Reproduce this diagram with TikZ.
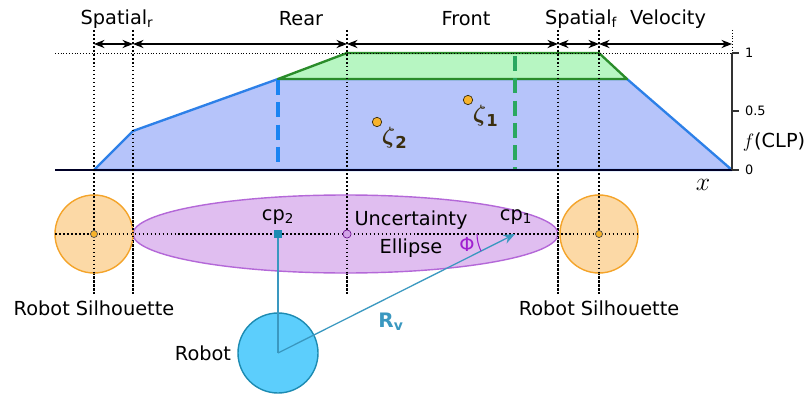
\RequirePackage{fix-cm}
\documentclass[tikz,border=0pt]{standalone}
\usepackage{fontspec}
\usepackage{amsmath}
\setmainfont{DejaVu Sans}
\usetikzlibrary{arrows.meta}

\definecolor{areablue}{HTML}{B6C4FA}
\definecolor{lineblue}{HTML}{2D80E8}
\definecolor{dashblue}{HTML}{1A84F2}
\definecolor{areagreen}{HTML}{B7F6C2}
\definecolor{linegreen}{HTML}{2A8C2A}
\definecolor{dashgreen}{HTML}{2AA860}
\definecolor{ellfill}{HTML}{E0BEF0}
\definecolor{elldraw}{HTML}{B468D8}
\definecolor{silfill}{HTML}{FCD9A6}
\definecolor{sildraw}{HTML}{F4A42A}
\definecolor{robfill}{HTML}{5CCEFC}
\definecolor{robdraw}{HTML}{1D8BB2}
\definecolor{rvcol}{HTML}{3A98C0}
\definecolor{phicol}{HTML}{A020D0}
\definecolor{zetadot}{HTML}{F7B32B}
\definecolor{zetatext}{HTML}{3B2F0F}

\tikzset{
  guide/.style={line width=1.4pt, dash pattern=on 1.4pt off 2pt},
  thinguide/.style={line width=0.7pt, dash pattern=on 0.8pt off 1.6pt},
  dimarrow/.style={{Stealth[length=9pt,width=7pt]}-{Stealth[length=9pt,width=7pt]}, line width=0.9pt},
  zetapt/.style={circle, fill=zetadot, draw=zetatext, line width=0.6pt, inner sep=0pt, minimum size=8pt},
  zetalab/.style={text=zetatext, anchor=north west, inner sep=1pt, font=\fontsize{20}{22}\selectfont},
  silhouette/.style={circle, fill=silfill, draw=sildraw, line width=1.2pt, inner sep=0pt, minimum size=2.34cm},
  centerpt/.style={circle, fill=zetadot, draw=black!70, line width=0.6pt, inner sep=0pt, minimum size=6pt},
  ticklabel/.style={font=\fontsize{11}{12}\selectfont, anchor=west}
}

\begin{document}
\begin{tikzpicture}[x=0.03cm, y=-0.03cm, font=\fontsize{16.5}{19}\selectfont]
  \useasboundingbox (0,0) rectangle (811,396);

  % CLP areas
  \filldraw[fill=areablue, draw=lineblue, line width=2pt, line join=round]
    (94,170) -- (133,131) -- (278,79) -- (627,79) -- (732,170) -- cycle;
  \filldraw[fill=areagreen, draw=linegreen, line width=2pt, line join=round]
    (278,79) -- (347,53) -- (599,53) -- (627,79) -- cycle;
  \draw[dashblue, line width=3pt, dash pattern=on 13pt off 6pt] (278,80) -- (278,170);
  \draw[dashgreen, line width=3pt, dash pattern=on 13pt off 6pt] (515,56) -- (515,170);

  % axes
  \draw[black!85!blue, line width=1.2pt] (55,170) -- (732,170);
  \draw[thinguide] (55,53) -- (732,53);
  \draw[black!80, line width=1.4pt] (732,53) -- (732,170);
  \draw[thinguide] (732,30) -- (732,53);
  \foreach \yv/\lab in {53/1, 111/0.5, 170/0} {
    \draw[black!80, line width=0.9pt] (732,\yv) -- (739,\yv);
    \node[ticklabel] (tick\lab) at (741,\yv) {\lab};
  }
  \node (fclp) at (774,142) {$f$(CLP)};
  \node[font=\fontsize{22}{24}\selectfont] (xlab) at (703,185) {$x$};

  % vertical guides
  \foreach \xv in {94,133,347,558,599}
    \draw[guide] (\xv,30) -- (\xv,293);

  % dimension arrows
  \foreach \xv [count=\i] in {94,133,347,558,599,732}
    \coordinate (d\i) at (\xv,44);
  \foreach \a/\b in {1/2, 2/3, 3/4, 4/5, 5/6}
    \draw[dimarrow] (d\a) -- (d\b);
  \node (spatialr) at (117,19) {Spatial\textsubscript{r}};
  \node (rear) at (301,19) {Rear};
  \node (front) at (466,19) {Front};
  \node (spatialf) at (581,19) {Spatial\textsubscript{f}};
  \node (velocity) at (668,19) {Velocity};

  % sample points
  \node[zetapt] (z2) at (377,122) {};
  \node[zetapt] (z1) at (468,100) {};
  \node[zetalab] (z2lab) at (z2.south east) {$\boldsymbol{\zeta}_{\mathbf{2}}$};
  \node[zetalab] (z1lab) at (z1.south east) {$\boldsymbol{\zeta}_{\mathbf{1}}$};

  % ellipse and silhouettes
  \filldraw[fill=ellfill, draw=elldraw, line width=1.2pt] (345.5,234) ellipse [x radius=212.5, y radius=39];
  \node[silhouette] (silr) at (94,234) {};
  \node[silhouette] (silf) at (599,234) {};
  \foreach \xv in {94,133,347,558,599}
    \draw[guide] (\xv,196) -- (\xv,293);
  \draw[guide] (55,234) -- (638,234);
  \node[centerpt] (silrc) at (94,234) {};
  \node[centerpt] (silfc) at (599,234) {};
  \node[circle, fill=elldraw!60, draw=phicol!70!black, line width=0.6pt, inner sep=0pt, minimum size=7pt] (ellc) at (347,234) {};
  \node[font=\fontsize{16.5}{24}\selectfont, align=center] (ellab) at (411,234) {Uncertainty\\Ellipse};
  \node (silrlab) at (94,308) {Robot Silhouette};
  \node (silflab) at (599,308) {Robot Silhouette};

  % robot and contact points
  \node[circle, fill=robfill, draw=robdraw, line width=1.2pt, inner sep=0pt, minimum size=2.4cm] (robot) at (278,353) {};
  \node (robotlab) at (203,353) {Robot};
  \coordinate (cp2) at (278,234);
  \coordinate (cp1) at (515,234);
  \draw[rvcol, line width=1.1pt] (robot.center) -- (cp2);
  \draw[rvcol, line width=1.1pt, -{Stealth[length=10pt,width=8pt]}] (robot.center) -- (cp1);
  \node[fill=robdraw, inner sep=0pt, minimum size=6pt] (cp2pt) at (cp2) {};
  \node (cp2lab) at (278,217) {cp\textsubscript{2}};
  \node (cp1lab) at (516,217) {cp\textsubscript{1}};
  \node[text=rvcol, font=\bfseries\fontsize{17}{19}\selectfont] (rvlab) at (391,322) {R\textsubscript{v}};
  \draw[phicol, line width=0.9pt] (477,234) arc[start angle=180, end angle=153.3, radius=38];
  \node[text=phicol] (philab) at (467,244) {Φ};
\end{tikzpicture}
\end{document}
